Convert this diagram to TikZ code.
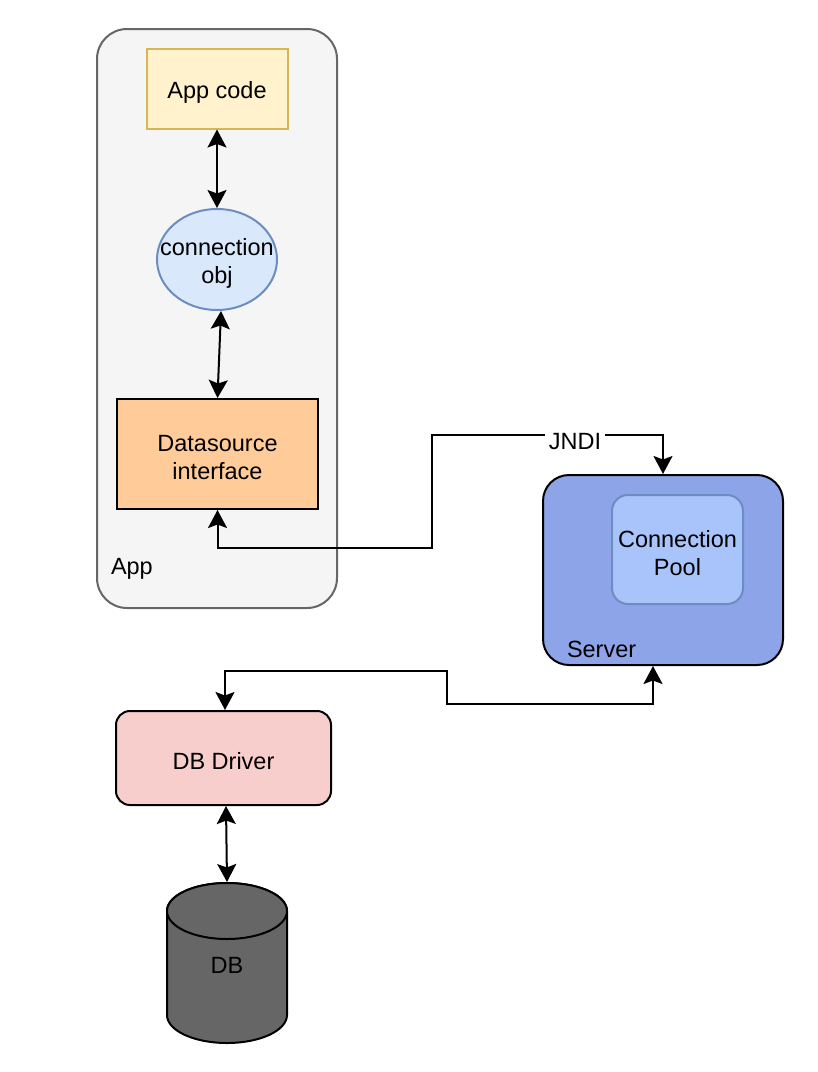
\documentclass[tikz,border=0pt]{standalone}
\usepackage{fontspec}
\setmainfont{Liberation Sans}
\usetikzlibrary{arrows.meta,shapes.geometric,calc}
\definecolor{appfill}{HTML}{F5F5F5}
\definecolor{appstroke}{HTML}{666666}
\definecolor{codefill}{HTML}{FFF2CC}
\definecolor{codestroke}{HTML}{D6B656}
\definecolor{connfill}{HTML}{DAE8FC}
\definecolor{connstroke}{HTML}{6C8EBF}
\definecolor{dsfill}{HTML}{FFCC99}
\definecolor{serverfill}{HTML}{8DA4E8}
\definecolor{poolfill}{HTML}{A9C4FB}
\definecolor{poolstroke}{HTML}{6C8EBF}
\definecolor{driverfill}{HTML}{F8CECC}
\definecolor{dbfill}{HTML}{666666}
\begin{document}
\begin{tikzpicture}[x=1pt,y=-1pt,
  font=\fontsize{23.5}{28}\selectfont,
  line width=2pt,
  box/.style={draw, rectangle, inner sep=0pt},
  txt/.style={label={[align=center, yshift=-3.5pt, inner sep=0pt]center:#1}},
  arr/.style={{Stealth[length=18pt,width=19pt,inset=3.5pt]}-{Stealth[length=18pt,width=19pt,inset=3.5pt]}, line width=2pt, draw=black}
]
\useasboundingbox (0,0) rectangle (818,1072);
% App container
\node[box, draw=appstroke, fill=appfill, rounded corners=30pt, minimum width=240pt, minimum height=579pt] (app) at (217,318.5) {};
\node[anchor=west, inner sep=0pt] (applbl) at (110,569) {App};
% App code
\node[box, draw=codestroke, fill=codefill, minimum width=141pt, minimum height=80pt, txt={App code}] (code) at (217,88.5) {};
% connection obj
\node[draw=connstroke, fill=connfill, ellipse, inner sep=0pt, minimum width=120pt, minimum height=101pt, txt={connection\\obj}] (conn) at (217,259.5) {};
% Datasource
\node[box, fill=dsfill, minimum width=201pt, minimum height=110pt, txt={Datasource\\interface}] (ds) at (217.5,454) {};
% Server
\node[box, fill=serverfill, rounded corners=26pt, minimum width=240pt, minimum height=190pt] (server) at (663,570) {};
\node[anchor=west, inner sep=0pt] (serverlbl) at (566,649) {Server};
\node[box, draw=poolstroke, fill=poolfill, rounded corners=16pt, minimum width=131pt, minimum height=109pt, txt={Connection\\Pool}] (pool) at (677.5,549.5) {};
% DB Driver
\node[box, fill=driverfill, rounded corners=14pt, minimum width=215pt, minimum height=94pt, txt={DB Driver}] (driver) at (223.5,758) {};
% DB cylinder
\node[inner sep=0pt, minimum width=120pt, minimum height=160pt] (db) at (227,963) {};
\draw[fill=dbfill] (167,911) -- (167,1015)
  .. controls (167,1030.5) and (193.9,1043) .. (227,1043)
  .. controls (260.1,1043) and (287,1030.5) .. (287,1015)
  -- (287,911)
  .. controls (287,895.5) and (260.1,883) .. (227,883)
  .. controls (193.9,883) and (167,895.5) .. (167,911) -- cycle;
\draw[fill=dbfill] (227,911) ellipse [x radius=60, y radius=28];
\node (dblbl) at (227,965) {DB};
% connectors
\draw[arr] (code.south) -- (conn.north);
\draw[arr] ($(conn.south)+(4,0)$) -- (ds.north);
\draw[arr] (ds.south) |- (432,548) -- (432,435) -| (server.north);
\node[fill=white, inner xsep=4pt, inner ysep=1pt] (jndi) at (575,442) {JNDI};
\draw[arr] ($(server.south)+(-10,0)$) |- (447,704) |- (225,671) -- ($(driver.north)+(1.5,0)$);
\draw[arr] ($(driver.south)+(2.5,0)$) -- (db.north);
\end{tikzpicture}
\end{document}
